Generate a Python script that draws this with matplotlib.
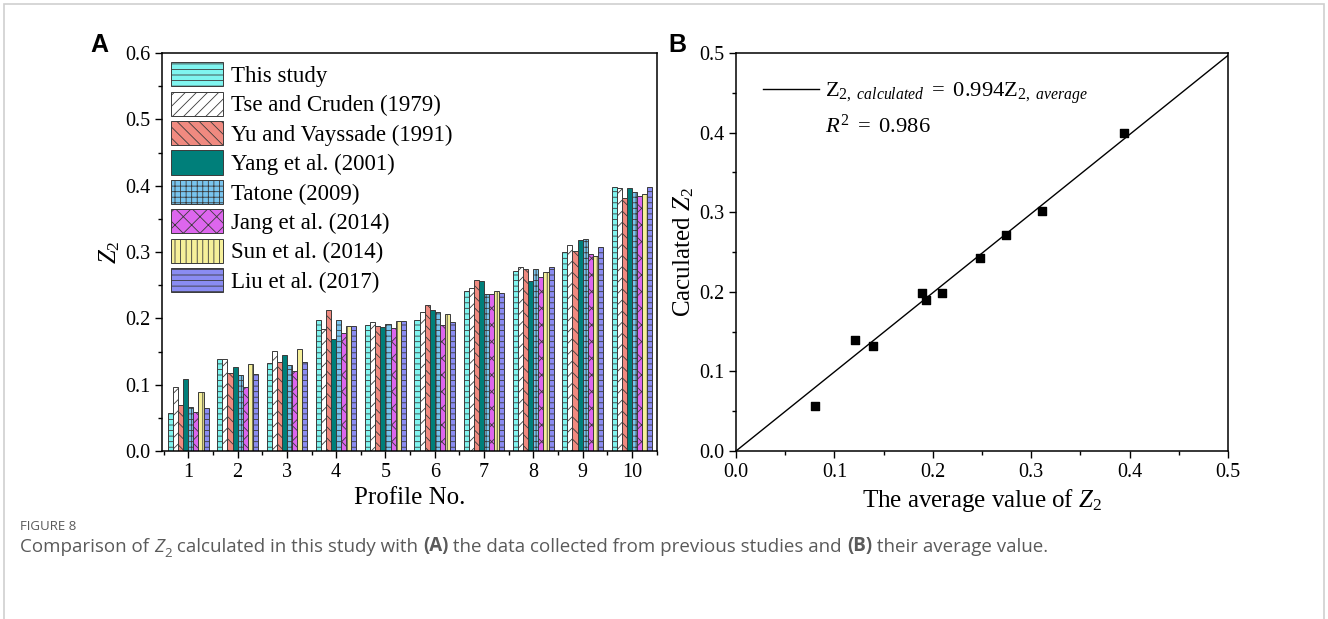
import numpy as np
import matplotlib
matplotlib.use("Agg")
from matplotlib import pyplot as plt
from matplotlib.patches import Rectangle
from matplotlib.lines import Line2D
from matplotlib.ticker import MultipleLocator, FormatStrFormatter

# ***** data *****#
profiles = [1, 2, 3, 4, 5, 6, 7, 8, 9, 10]
this_study = [0.057, 0.139, 0.132, 0.198, 0.190, 0.197, 0.241, 0.271, 0.300, 0.398]
tse_cruden = [0.097, 0.139, 0.151, 0.184, 0.195, 0.209, 0.245, 0.277, 0.310, 0.396]
yu_vayssade = [0.070, 0.117, 0.134, 0.212, 0.188, 0.220, 0.258, 0.275, 0.301, 0.382]
yang = [0.109, 0.126, 0.145, 0.169, 0.187, 0.212, 0.256, 0.257, 0.318, 0.396]
tatone = [0.067, 0.114, 0.129, 0.198, 0.191, 0.210, 0.236, 0.274, 0.319, 0.391]
jang = [0.059, 0.097, 0.121, 0.178, 0.186, 0.190, 0.237, 0.263, 0.297, 0.385]
sun = [0.089, 0.131, 0.154, 0.189, 0.196, 0.207, 0.241, 0.270, 0.294, 0.387]
liu = [0.065, 0.116, 0.134, 0.188, 0.196, 0.194, 0.238, 0.278, 0.308, 0.398]

labels = ["This study", "Tse and Cruden (1979)", "Yu and Vayssade (1991)", "Yang et al. (2001)",
          "Tatone (2009)", "Jang et al. (2014)", "Sun et al. (2014)", "Liu et al. (2017)"]

avg_z2 = [0.080, 0.121, 0.139, 0.189, 0.193, 0.209, 0.248, 0.274, 0.311, 0.394]
calc_z2 = [0.057, 0.139, 0.132, 0.198, 0.190, 0.198, 0.242, 0.271, 0.301, 0.399]
fit_slope = 0.994

# styles for each series
face = ["#7ff5f0", "#ffffff", "#f08a80", "#007f7a", "#78c4ee", "#dd66ee", "#f6f09a", "#8a8cf2"]
hatches = ["---", "///", "\\\\\\", "", "+++", "xx", "|||", "---"]

plt.rcParams["font.family"] = "Liberation Serif"
plt.rcParams["mathtext.fontset"] = "custom"
plt.rcParams["mathtext.rm"] = "Liberation Serif"
plt.rcParams["mathtext.it"] = "Liberation Serif:italic"
plt.rcParams["hatch.linewidth"] = 0.6
plt.rcParams["xtick.direction"] = "out"
plt.rcParams["ytick.direction"] = "out"

fig = plt.figure(figsize=(13.28, 6.19), dpi=100)

# outer frame of the figure
fig.patches.append(Rectangle((0.003, -0.01), 0.994, 1.003, transform=fig.transFigure,
                             fill=False, edgecolor="#cfcfcf", linewidth=1.2))

ax1 = fig.add_axes([162 / 1328, 1 - 451 / 619, (657 - 162) / 1328, (451 - 53) / 619])
ax2 = fig.add_axes([736 / 1328, 1 - 451 / 619, (1228 - 736) / 1328, (451 - 53) / 619])

# ***** panel A: grouped bars *****#
series = [this_study, tse_cruden, yu_vayssade, yang, tatone, jang, sun, liu]
x = np.array(profiles, dtype=float)
w = 0.103
for k, vals in enumerate(series):
    ax1.bar(x + (k - 3.5) * w, vals, width=w, color=face[k], edgecolor="#3a3a3a",
            hatch=hatches[k], linewidth=0.7, label=labels[k])

ax1.set_xlim(0.466, 10.51)
ax1.set_ylim(0, 0.6)
ax1.set_xticks(profiles)
ax1.xaxis.set_minor_locator(MultipleLocator(0.5))
ax1.yaxis.set_major_locator(MultipleLocator(0.1))
ax1.yaxis.set_minor_locator(MultipleLocator(0.05))
ax1.yaxis.set_major_formatter(FormatStrFormatter("%.1f"))
ax1.set_xlabel("Profile No.", fontsize=18, labelpad=4)
ax1.set_ylabel(r"$Z_2$", fontsize=18, labelpad=2)
ax1.legend(loc="upper left", frameon=False, fontsize=16.5, handlelength=2.27,
           handleheight=1.25, handletextpad=0.35, labelspacing=0.2,
           borderaxespad=0.2, borderpad=0.2)

# ***** panel B: calculated vs average *****#
ax2.scatter(avg_z2, calc_z2, marker="s", s=38, color="black", zorder=3)
xx = np.array([0.0, 0.5])
ax2.plot(xx, fit_slope * xx, color="black", linewidth=1.0)
ax2.set_xlim(0, 0.5)
ax2.set_ylim(0, 0.5)
ax2.xaxis.set_major_locator(MultipleLocator(0.1))
ax2.xaxis.set_minor_locator(MultipleLocator(0.05))
ax2.yaxis.set_major_locator(MultipleLocator(0.1))
ax2.yaxis.set_minor_locator(MultipleLocator(0.05))
ax2.xaxis.set_major_formatter(FormatStrFormatter("%.1f"))
ax2.yaxis.set_major_formatter(FormatStrFormatter("%.1f"))
ax2.set_xlabel(r"The average value of $Z_2$", fontsize=18, labelpad=4)
ax2.set_ylabel(r"Caculated $Z_2$", fontsize=18, labelpad=2)

h1 = Line2D([], [], color="black", linewidth=1.0)
h2 = Line2D([], [], color="none")
ax2.legend([h1, h2],
           [r"$\mathrm{Z}_{2,\ calculated}\ =\ \mathrm{0.994Z}_{2,\ average}$", r"$R^2\ =\ \mathrm{0.986}$"],
           loc="upper left", frameon=False, fontsize=16.2, handlelength=2.5,
           handletextpad=0.25, labelspacing=0.4, borderaxespad=0.9, borderpad=0.3)

for ax in (ax1, ax2):
    ax.tick_params(which="major", length=5, width=1, labelsize=14.5)
    ax.tick_params(which="minor", length=3, width=1)
    for s in ax.spines.values():
        s.set_linewidth(1.1)

# panel letters
fig.text(90 / 1328, 1 - 45 / 619, "A", fontsize=18, fontweight="bold", family="Liberation Sans",
         va="center", ha="left")
fig.text(668 / 1328, 1 - 45 / 619, "B", fontsize=18, fontweight="bold", family="Liberation Sans",
         va="center", ha="left")

# ***** caption *****#
cap_col = "#5a5a5a"
cap_fs = 13.5
fig.text(20 / 1328, 1 - 527 / 619, "FIGURE 8", fontsize=9.5, color=cap_col, family="Open Sans",
         va="center", ha="left")
t = fig.text(20 / 1328, 1 - 556 / 619, "Comparison of ", fontsize=cap_fs, color=cap_col,
             family="Open Sans", va="bottom", ha="left")
z = plt.annotate("Z", xy=(1, 0), xycoords=t, va="bottom", ha="left", fontsize=cap_fs,
                 color=cap_col, family="Open Sans", style="italic", annotation_clip=False)
sub = plt.annotate("2", xy=(1, 0), xycoords=z, xytext=(0.5, -3), textcoords="offset points",
                   va="bottom", ha="left", fontsize=cap_fs * 0.7, color=cap_col, family="Open Sans",
                   annotation_clip=False)
pieces = [(" calculated in this study with ", "normal"), ("(A)", "bold"),
          (" the data collected from previous studies and ", "normal"), ("(B)", "bold"),
          (" their average value.", "normal")]
prev = plt.annotate(pieces[0][0], xy=(1, 0), xycoords=(sub, z), va="bottom", ha="left",
                    fontsize=cap_fs, color=cap_col, family="Open Sans", annotation_clip=False)
for txt, wt in pieces[1:]:
    prev = plt.annotate(txt, xy=(1, 0), xycoords=prev, va="bottom", ha="left", fontsize=cap_fs,
                        color=cap_col, family="Open Sans", fontweight=wt, annotation_clip=False)

fig.savefig("out.png", dpi=100)
